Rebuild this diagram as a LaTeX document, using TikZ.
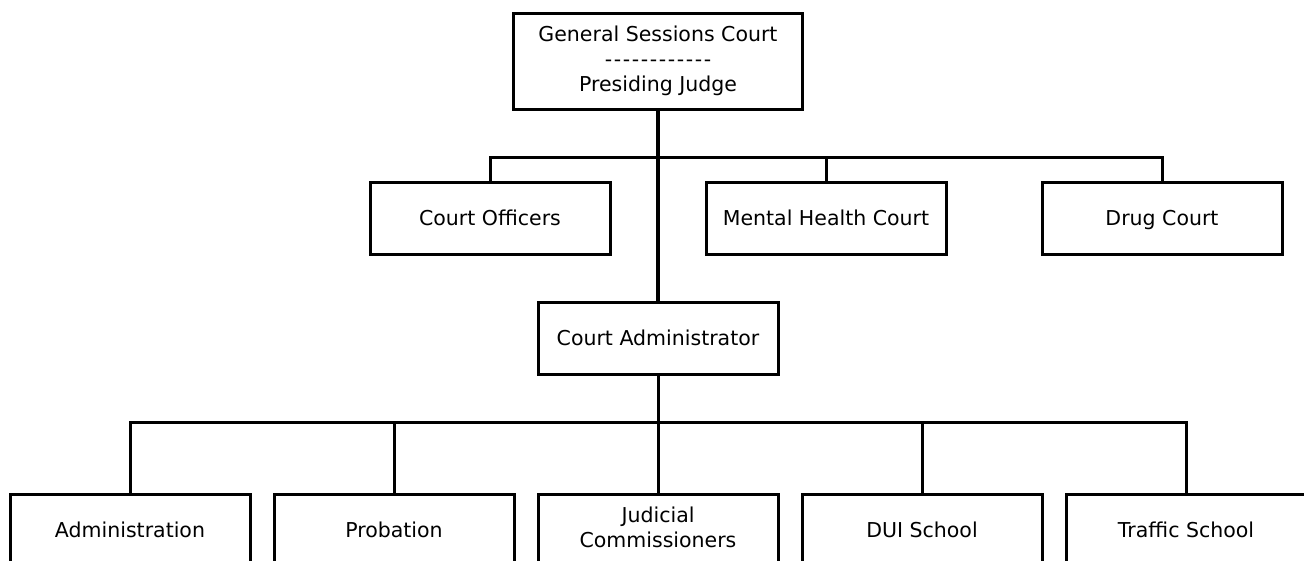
\documentclass[tikz,border=0pt]{standalone}
\usepackage{fontspec}
\setmainfont{DejaVu Sans}
% a row of twelve separate hyphens (kept apart so they do not join into dashes)
\newcommand\hyphenrow{-\kern1.6pt-\kern1.6pt-\kern1.6pt-\kern1.6pt-\kern1.6pt-\kern1.6pt-\kern1.6pt-\kern1.6pt-\kern1.6pt-\kern1.6pt-\kern1.6pt-}
\begin{document}
\begin{tikzpicture}[x=1pt,y=-1pt,
  unit/.style={draw=black, line width=3pt, fill=white, rectangle, inner sep=0pt,
    minimum width=240pt, minimum height=72pt, align=center,
    font=\fontsize{20.5}{25}\selectfont, execute at begin node={\rule[-5pt]{0pt}{25pt}}},
  link/.style={draw=black, line width=3pt},
  trunk/.style={draw=black, line width=4pt}]
\useasboundingbox (0,0) rectangle (1304,560);

% head of the court
\node[unit, minimum width=289pt, minimum height=96pt] (gsc) at (658,61)
  {General Sessions Court\\\hyphenrow\\Presiding Judge};

% units reporting to the presiding judge
\node[unit] (co) at (490,218) {Court Officers};
\node[unit] (mh) at (826,218) {Mental Health Court};
\node[unit] (dc) at (1162,218) {Drug Court};

% court administrator
\node[unit] (ca) at (658,338) {Court Administrator};

% units reporting to the administrator
\node[unit] (adm) at (130,530) {Administration};
\node[unit] (prb) at (394,530) {Probation};
\node[unit] (jc)  at (658,530) {Judicial\\Commissioners};
\node[unit] (dui) at (922,530) {DUI School};
\node[unit] (trf) at (1186,530) {Traffic School};

% bus lines
\coordinate (busA) at (658,157);
\coordinate (busB) at (658,422);

% upper branch
\draw[link] (co.north) |- (dc.north |- busA) -- (dc.north);
\draw[link] (mh.north) -- (mh.north |- busA);
\draw[trunk] (gsc.south) -- (ca.north);

% lower branch
\draw[link] (adm.north) |- (trf.north |- busB) -- (trf.north);
\draw[link] (prb.north) -- (prb.north |- busB);
\draw[link] (dui.north) -- (dui.north |- busB);
\draw[link] (ca.south) -- (jc.north);
\end{tikzpicture}
\end{document}
